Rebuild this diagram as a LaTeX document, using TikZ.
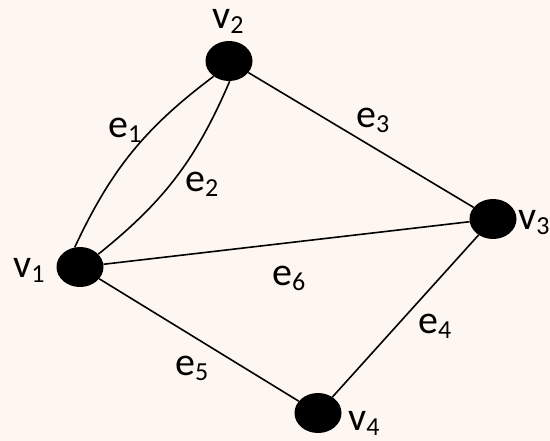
\documentclass[tikz,border=0pt]{standalone}
\usepackage{fontspec}
\setmainfont{Carlito}
\usetikzlibrary{shapes.geometric}
\definecolor{paper}{HTML}{FEF7F1}
\newcommand{\sublab}[2]{#1\raisebox{-5pt}{\fontsize{26}{26}\selectfont #2}}
\begin{document}
\begin{tikzpicture}[x=1pt,y=-1pt,
  vertex/.style={ellipse,fill=black,inner sep=0pt,minimum width=47pt,minimum height=40pt},
  edge/.style={draw=black,line width=1.6pt},
  lab/.style={anchor=base west,inner sep=0pt,font=\fontsize{40}{42}\selectfont}]
\useasboundingbox (0,0) rectangle (550,441);
\fill[paper] (0,0) rectangle (550,441);

% vertices
\node[vertex] (v1) at (80,267) {};
\node[vertex] (v2) at (229,61) {};
\node[vertex] (v3) at (493,219) {};
\node[vertex] (v4) at (318,413) {};

% edges (two parallel edges between v1 and v2)
\draw[edge] (v1.105) to[bend left=14] (v2.225);
\draw[edge] (v1.35) to[bend right=14] (v2.272);
\draw[edge] (v2) -- (v3);
\draw[edge] (v1) -- (v3);
\draw[edge] (v1) -- (v4);
\draw[edge] (v4) -- (v3);

% vertex labels
\node[lab] (l1) at (13,278) {\sublab{v}{1}};
\node[lab] (l2) at (212,29) {\sublab{v}{2}};
\node[lab] (l3) at (518,230) {\sublab{v}{3}};
\node[lab] (l4) at (348,431) {\sublab{v}{4}};

% edge labels
\node[lab] (le1) at (108,138) {\sublab{e}{1}};
\node[lab] (le2) at (185,192) {\sublab{e}{2}};
\node[lab] (le3) at (356,128) {\sublab{e}{3}};
\node[lab] (le4) at (418,334) {\sublab{e}{4}};
\node[lab] (le5) at (175,376) {\sublab{e}{5}};
\node[lab] (le6) at (272,286) {\sublab{e}{6}};
\end{tikzpicture}
\end{document}
